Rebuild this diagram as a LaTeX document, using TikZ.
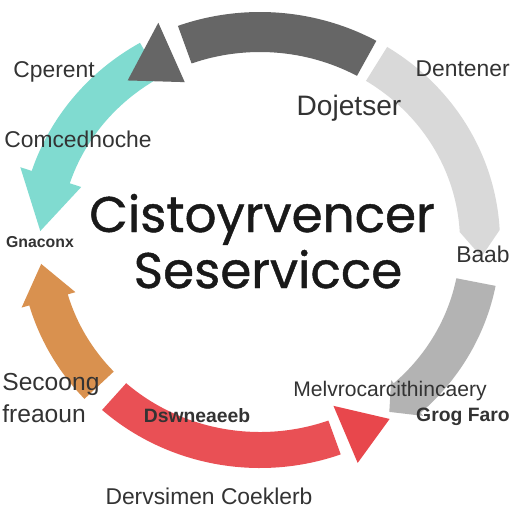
\documentclass[tikz,border=0pt]{standalone}
\usepackage{fontspec}
\setmainfont{Liberation Sans}
\newfontfamily\titlefont[FakeBold=0.9]{Poppins}
\usetikzlibrary{positioning}
\definecolor{darkarc}{HTML}{666666}
\definecolor{lightarc}{HTML}{D9D9D9}
\definecolor{midarc}{HTML}{B3B3B3}
\definecolor{tealarc}{HTML}{80DBD0}
\definecolor{orangearc}{HTML}{D9914F}
\definecolor{redarc}{HTML}{E8474C}
\definecolor{labelgray}{HTML}{333333}

\begin{document}
\begin{tikzpicture}[
    x=0.02cm, y=-0.02cm,
    tag/.style={
        text=labelgray,
        inner sep=0pt,
        anchor=base,
        font=\fontsize{13}{15}\selectfont
    },
    smalltag/.style={
        tag,
        font=\bfseries\fontsize{9}{11}\selectfont
    },
    headline/.style={
        text=black!90,
        inner sep=0pt,
        anchor=base,
        font=\titlefont\fontsize{28.5}{34}\selectfont
    }
]

\fill[white] (0,0) rectangle (512,512);
\useasboundingbox (0,0) rectangle (512,512);

\begin{scope}[shift={(260,242)}]
% teal, left top
\fill[tealarc] (-120:240 and 230) arc[start angle=-120, end angle=-162, x radius=240, y radius=230]
    -- (-162:252 and 242) -- (-177:220 and 210) -- (-162:188 and 178)
    -- (-162:200 and 190) arc[start angle=-162, end angle=-120, x radius=200, y radius=190] -- cycle;
% orange, left bottom
\fill[orangearc] (-223:240 and 230) arc[start angle=-223, end angle=-196, x radius=240, y radius=230]
    -- (-196:248 and 238) -- (-186:220 and 210) -- (-196:192 and 182)
    -- (-196:200 and 190) arc[start angle=-196, end angle=-223, x radius=200, y radius=190] -- cycle;
% red, bottom
\fill[redarc, fill opacity=0.95] (-228:236 and 226) arc[start angle=-228, end angle=-290, x radius=236, y radius=226]
    -- (-290:200 and 190) arc[start angle=-290, end angle=-228, x radius=200, y radius=190] -- cycle;
\fill[redarc] (-293:250 and 240) -- (-305:226 and 216) -- (-293:188 and 178) -- cycle;
% light gray, right top
\fill[lightarc] (-58:240 and 230) arc[start angle=-58, end angle=-3, x radius=240, y radius=230]
    -- (4:222 and 212) -- (-3:200 and 190)
    arc[start angle=-3, end angle=-58, x radius=200, y radius=190] -- cycle;
% mid gray, right bottom
\fill[midarc] (11:240 and 230) arc[start angle=11, end angle=48, x radius=240, y radius=230]
    -- (48:244 and 234) -- (54:220 and 210) -- (48:196 and 186)
    -- (48:200 and 190) arc[start angle=48, end angle=11, x radius=200, y radius=190] -- cycle;
% dark gray, top
\fill[darkarc] (-61:240 and 230) arc[start angle=-61, end angle=-110, x radius=240, y radius=230]
    -- (-110:200 and 190) arc[start angle=-110, end angle=-61, x radius=200, y radius=190] -- cycle;
\fill[darkarc] (-114:250 and 240) -- (-128:215 and 205) -- (-114:185 and 175) -- cycle;
\end{scope}

\node[headline] (top) at (262,232) {Cistoyrvencer};
\node[headline] (bottom) at (268,288) {Seservicce};

\node[tag] (cperent) at (54,77) {Cperent};
\node[tag] (comced) at (78,147) {Comcedhoche};
\node[tag, anchor=base east] (dentener) at (510,76) {Dentener};
\node[tag, font=\fontsize{16}{18}\selectfont] (dojetser) at (349,115) {Dojetser};
\node[smalltag] (gnaconx) at (40,247) {Gnaconx};
\node[tag, anchor=base east] (baab) at (510,262) {Baab};
\node[tag, anchor=base west, font=\fontsize{14}{16}\selectfont] (secoong) at (2,390) {Secoong};
\node[tag, anchor=base west, font=\fontsize{14}{16}\selectfont] (freaoun) at (2,422) {freaoun};
\node[smalltag, font=\bfseries\fontsize{11}{13}\selectfont] (dswne) at (197,422) {Dswneaeeb};
\node[tag, font=\fontsize{12}{14}\selectfont] (melvro) at (390,396) {Melvrocarcithincaery};
\node[tag, anchor=base east, font=\bfseries\fontsize{11}{13}\selectfont] (grog) at (510,421) {Grog Faro};
\node[tag] (dervsimen) at (209,504) {Dervsimen Coeklerb};

\end{tikzpicture}
\end{document}
